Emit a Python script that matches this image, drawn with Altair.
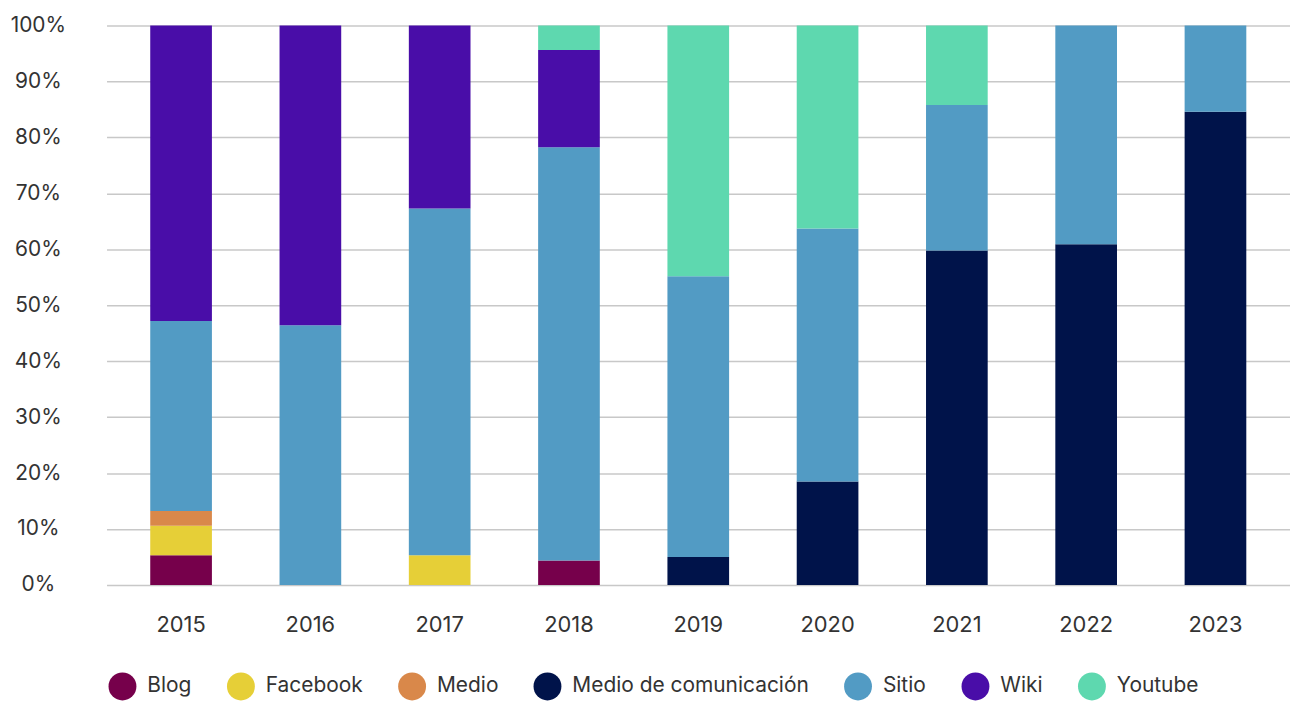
import altair as alt
import pandas as pd

years = ["2015", "2016", "2017", "2018", "2019", "2020", "2021", "2022", "2023"]
categories = ["Blog", "Facebook", "Medio", "Medio de comunicación", "Sitio", "Wiki", "Youtube"]
colors = ["#76004B", "#E6CF37", "#D9884A", "#00134A", "#529BC4", "#490DA8", "#5ED8AF"]

blog      = [5.3, 0, 0, 4.35, 0, 0, 0, 0, 0]
facebook  = [5.3, 0, 5.3, 0, 0, 0, 0, 0, 0]
medio     = [2.6, 0, 0, 0, 0, 0, 0, 0, 0]
mdc       = [0, 0, 0, 0, 5.0, 18.5, 59.8, 60.9, 84.6]
sitio     = [34.0, 46.4, 62.0, 73.9, 50.2, 45.2, 26.0, 39.1, 15.4]
wiki      = [52.8, 53.6, 32.7, 17.4, 0, 0, 0, 0, 0]
youtube   = [0, 0, 0, 4.35, 44.8, 36.3, 14.2, 0, 0]

series = [blog, facebook, medio, mdc, sitio, wiki, youtube]
rows = []
for cat, vals in zip(categories, series):
    for y, v in zip(years, vals):
        if v > 0:
            rows.append({"year": y, "cat": cat, "value": v, "order": categories.index(cat)})
df = pd.DataFrame(rows)

font = "Inter"
chart = alt.Chart(df).mark_bar().encode(
    x=alt.X("year:N", sort=years, title=None,
            scale=alt.Scale(paddingInner=0.523, paddingOuter=0.338),
            axis=alt.Axis(labelAngle=0, ticks=False, domain=False, labelPadding=30,
                          labelFontSize=22, labelColor="#333333", labelFont=font)),
    y=alt.Y("value:Q", stack="zero", title=None,
            scale=alt.Scale(domain=[0, 100], nice=False),
            axis=alt.Axis(values=list(range(0, 101, 10)), labelExpr="datum.value + '%'",
                          ticks=False, domain=False, labelPadding=69, labelAlign="center",
                          labelFontSize=21, labelColor="#333333", labelFont=font,
                          gridColor="#C8C8C8", gridWidth=1.5)),
    color=alt.Color("cat:N", sort=categories, title=None,
                    scale=alt.Scale(domain=categories, range=colors),
                    legend=alt.Legend(orient="none", legendX=2, legendY=650,
                                      direction="horizontal", symbolType="circle",
                                      symbolSize=784, symbolStrokeWidth=0, labelFontSize=21,
                                      labelColor="#333333", labelFont=font, labelOffset=11,
                                      columnPadding=35, labelLimit=400)),
    order=alt.Order("order:Q", sort="ascending"),
).properties(width=1189, height=562, padding={"left": 2, "top": 5, "right": 0, "bottom": 0}
).configure_view(stroke=None)

chart.save("out.html", embed_options={"renderer": "svg", "actions": False})
